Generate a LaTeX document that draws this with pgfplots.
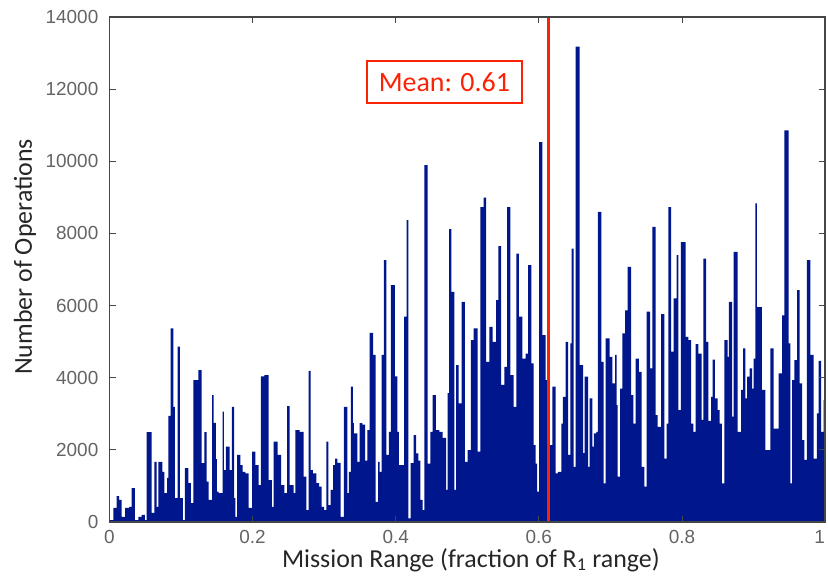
\documentclass[border=0pt]{standalone}
\usepackage{fontspec}
\setmainfont{Carlito}
\newfontfamily\tickfont{Liberation Sans}
\usepackage{pgfplots}
\usepackage{pgfplotstable}
\pgfplotsset{compat=1.18}
\definecolor{barblue}{RGB}{0,22,140}
\definecolor{meanred}{RGB}{250,35,5}
\definecolor{ticktext}{RGB}{100,100,100}
\definecolor{axisgrey}{RGB}{70,70,70}
\pgfplotstableread{
x y
0 50
0.0053 390
0.0101 720
0.0133 610
0.0171 140
0.0217 390
0.0273 420
0.0310 940
0.0356 55
0.0403 140
0.0450 195
0.0496 55
0.0520 2490
0.0590 250
0.0626 1670
0.0660 420
0.0682 1670
0.0738 1390
0.0766 800
0.0804 1220
0.0822 2940
0.0855 5370
0.0892 3190
0.0915 660
0.0953 4860
0.0985 660
0.1027 55
0.1055 1490
0.1101 1080
0.1139 520
0.1171 3930
0.1241 4210
0.1289 1630
0.1325 2490
0.1358 1120
0.1386 610
0.1433 3520
0.1456 2750
0.1488 1740
0.1502 840
0.1526 800
0.1582 3060
0.1600 1440
0.1628 2090
0.1680 1440
0.1712 3190
0.1740 660
0.1758 140
0.1782 1860
0.1828 1580
0.1862 1390
0.1898 1350
0.1945 390
0.1992 1950
0.2038 1580
0.2085 1020
0.2117 4040
0.2163 4070
0.2225 1160
0.2271 420
0.2295 2230
0.2351 1860
0.2397 1020
0.2443 800
0.2481 3210
0.2518 1020
0.2574 800
0.2597 2550
0.2658 2500
0.2714 1260
0.2750 330
0.2784 4190
0.2812 1440
0.2844 1350
0.2890 1080
0.2928 980
0.2966 420
0.2998 330
0.3030 2230
0.3058 470
0.3092 890
0.3124 1580
0.3152 1760
0.3184 1640
0.3231 140
0.3277 3190
0.3324 800
0.3347 1390
0.3375 3750
0.3403 2750
0.3417 2460
0.3463 1670
0.3497 2740
0.3533 2700
0.3571 1700
0.3603 2550
0.3637 5240
0.3683 4630
0.3720 560
0.3753 1670
0.3776 1390
0.3804 4630
0.3836 7260
0.3869 1860
0.3906 2500
0.3934 6570
0.3990 4040
0.4022 2500
0.4046 1580
0.4116 5690
0.4154 8370
0.4176 100
0.4210 1630
0.4252 2410
0.4284 1900
0.4316 1700
0.4344 610
0.4377 330
0.4400 9890
0.4447 1620
0.4484 2500
0.4517 3520
0.4563 2550
0.4609 2500
0.4657 2330
0.4703 890
0.4727 3570
0.4745 8120
0.4777 6380
0.4819 890
0.4843 4350
0.4880 3290
0.4922 6100
0.4968 1670
0.5006 1990
0.5052 5040
0.5090 5370
0.5146 1950
0.5182 8730
0.5230 8990
0.5262 4440
0.5308 5410
0.5356 4990
0.5402 6150
0.5434 7650
0.5472 3800
0.5518 4300
0.5556 8730
0.5602 4070
0.5649 3190
0.5686 7440
0.5723 5690
0.5769 4530
0.5817 4670
0.5849 7120
0.5895 4400
0.5929 2130
0.5957 1620
0.5975 840
0.6003 10530
0.6049 5180
0.6096 3930
0.6152 2130
0.6189 3750
0.6236 1350
0.6268 1390
0.6314 2730
0.6338 3470
0.6376 4990
0.6408 1860
0.6440 4950
0.6460 7580
0.6488 1530
0.6516 13180
0.6572 4350
0.6618 1910
0.6641 4030
0.6688 1530
0.6711 3430
0.6748 2090
0.6771 2460
0.6804 2500
0.6827 8600
0.6873 4440
0.6907 1070
0.6935 5090
0.6991 4580
0.7027 3840
0.7065 4630
0.7089 3240
0.7103 1260
0.7135 3700
0.7167 5230
0.7205 5870
0.7242 7070
0.7289 3520
0.7321 2730
0.7354 4530
0.7400 4160
0.7438 1530
0.7474 980
0.7508 5830
0.7554 4260
0.7586 8180
0.7634 2960
0.7662 2640
0.7708 5760
0.7754 1760
0.7788 2730
0.7810 8730
0.7848 4720
0.7885 6200
0.7927 7400
0.7950 3100
0.7987 7760
0.8053 5130
0.8089 5040
0.8127 2730
0.8159 2500
0.8193 4930
0.8229 4670
0.8277 2830
0.8299 7300
0.8337 4990
0.8369 2800
0.8407 3470
0.8430 4500
0.8462 3430
0.8500 3100
0.8528 2730
0.8560 1070
0.8592 5040
0.8640 4580
0.8658 6100
0.8700 2920
0.8724 7490
0.8780 2500
0.8826 3660
0.8854 4810
0.8886 3430
0.8910 4030
0.8947 4260
0.8980 3700
0.9003 4530
0.9026 8830
0.9049 5960
0.9119 3660
0.9166 1990
0.9235 4810
0.9283 2590
0.9353 4120
0.9399 5730
0.9431 10860
0.9493 4950
0.9515 1070
0.9539 3930
0.9571 4490
0.9609 6430
0.9646 3840
0.9679 2270
0.9711 1720
0.9748 7260
0.9794 4630
0.9842 1760
0.9885 3010
0.9912 4470
0.9944 2500
0.9982 3380
1.0 3380
}\histdata
\begin{document}
\begin{tikzpicture}[x=1bp,y=1bp]
\useasboundingbox (0,0) rectangle (828,577);
\begin{axis}[
  at={(109.5bp,55bp)}, anchor=south west,
  scale only axis, width=715.5bp, height=505bp,
  xmin=0, xmax=1, ymin=0, ymax=14000,
  xtick={0,0.2,0.4,0.6,0.8,1},
  xticklabels={0,0.2,0.4,0.6,0.8,\makebox[0pt][r]{1}},
  ytick={0,2000,4000,6000,8000,10000,12000,14000},
  yticklabels={0,2000,4000,6000,8000,10000,12000,14000},
  scaled y ticks=false,
  /pgf/number format/assume math mode=true,
  tick align=inside, tickpos=both,
  major tick length=6bp,
  every tick/.style={axisgrey, line width=0.8bp},
  axis line style={axisgrey, line width=1.2bp},
  tick label style={font=\tickfont\fontsize{19}{19}\selectfont, text=ticktext},
  yticklabel style={inner sep=0pt, xshift=-11bp},
  xticklabel style={inner sep=0pt, yshift=-8bp},
  label style={font=\fontsize{26}{30}\selectfont, text=black!85},
  xlabel={Mission Range (fraction of R\textsubscript{1} range)},
  ylabel={Number of Operations},
  xlabel style={at={(axis description cs:0.505,-0.075)}, anchor=center},
  ylabel style={at={(axis description cs:-0.118,0.525)}, anchor=center},
  axis on top,
  clip=true,
]
\addplot[const plot, fill=barblue, draw=none] table[x=x, y=y] {\histdata} \closedcycle;
\addplot[meanred, line width=3bp] coordinates {(0.613,0) (0.613,14000)};
\node[draw=meanred, line width=1.5bp, fill=white, minimum width=155bp, minimum height=42bp, text=meanred, font=\fontsize{28}{32}\selectfont] at (axis cs:0.468,12200) {Mean: 0.61};
\end{axis}
\end{tikzpicture}
\end{document}
